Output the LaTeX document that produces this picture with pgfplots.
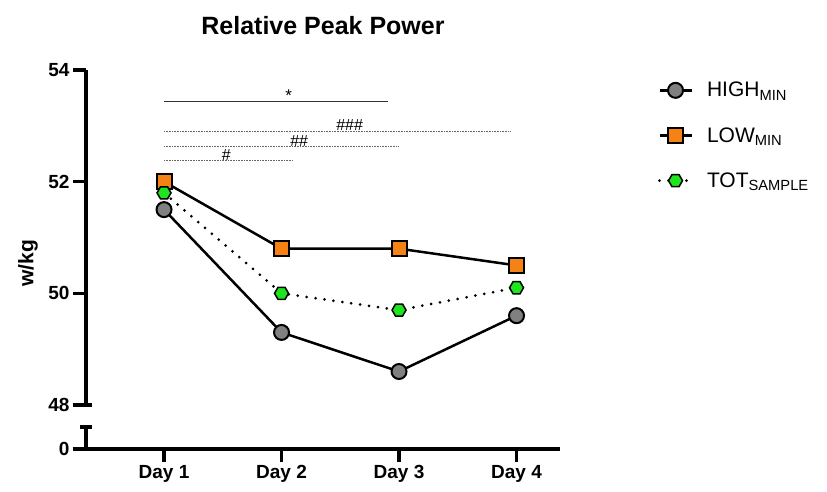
\documentclass[border=0pt]{standalone}
\usepackage{pgfplots}
\pgfplotsset{compat=1.18}
\usepackage{fontspec}
\setmainfont{Liberation Sans}
\definecolor{mgray}{RGB}{128,128,128}
\definecolor{morange}{RGB}{245,130,20}
\definecolor{mgreen}{RGB}{30,230,30}
\pgfdeclareplotmark{hexagon}{%
  \pgfpathmoveto{\pgfpoint{\pgfplotmarksize}{0pt}}%
  \pgfpathlineto{\pgfpoint{0.5\pgfplotmarksize}{0.866\pgfplotmarksize}}%
  \pgfpathlineto{\pgfpoint{-0.5\pgfplotmarksize}{0.866\pgfplotmarksize}}%
  \pgfpathlineto{\pgfpoint{-\pgfplotmarksize}{0pt}}%
  \pgfpathlineto{\pgfpoint{-0.5\pgfplotmarksize}{-0.866\pgfplotmarksize}}%
  \pgfpathlineto{\pgfpoint{0.5\pgfplotmarksize}{-0.866\pgfplotmarksize}}%
  \pgfpathclose
  \pgfusepathqfillstroke}
\begin{document}
\begin{tikzpicture}
\useasboundingbox (-86pt,-86pt) rectangle (741pt,405pt);
\begin{axis}[
  name=top,
  at={(0,0)}, anchor=south west,
  scale only axis,
  width=474pt, height=335pt,
  xmin=0.336, xmax=4.37,
  ymin=48, ymax=54,
  axis x line=none,
  axis y line=left,
  axis line style={-, line width=3.5pt},
  ytick={48,50,52,54},
  tick align=outside,
  major tick length=13pt,
  tick style={line width=3.5pt, black},
  yticklabel style={font=\fontsize{19}{22}\selectfont\bfseries},
  /pgf/number format/assume math mode=true,
  xtick=\empty,
  clip=false,
  title={\fontsize{25}{30}\selectfont\bfseries Relative Peak Power},
  title style={at={(0.5,1)}, yshift=26pt},
  legend style={at={(1.2,0.976)}, anchor=north west, draw=none, fill=none,
    font=\fontsize{21}{25}\selectfont, row sep=25pt,
    /tikz/every odd column/.append style={column sep=12pt}},
  legend cell align=left,
  legend image code/.code={\draw[mark repeat=2,mark phase=2] plot coordinates {(0pt,0pt) (16pt,0pt) (32pt,0pt)};},
]
% significance bars
\addplot[black!80, line width=0.8pt, forget plot] coordinates {(1,53.43) (2.91,53.43)};
\addplot[gray!80!black, line width=0.7pt, dash pattern=on 0.8pt off 0.8pt, forget plot] coordinates {(1,52.91) (3.95,52.91)};
\addplot[gray!80!black, line width=0.7pt, dash pattern=on 0.8pt off 0.8pt, forget plot] coordinates {(1,52.63) (2.99,52.63)};
\addplot[gray!80!black, line width=0.7pt, dash pattern=on 0.8pt off 0.8pt, forget plot] coordinates {(1,52.38) (2.10,52.38)};
\node[anchor=south, inner sep=0.5pt, font=\fontsize{17}{19}\selectfont] at (axis cs:2.06,53.43) {*};
\node[anchor=south, inner sep=0pt, font=\fontsize{16}{18}\selectfont] at (axis cs:2.58,52.91) {\#\#\#};
\node[anchor=south, inner sep=0pt, font=\fontsize{16}{18}\selectfont] at (axis cs:2.15,52.63) {\#\#};
\node[anchor=south, inner sep=0pt, font=\fontsize{16}{18}\selectfont] at (axis cs:1.53,52.38) {\#};
% data
\addplot[black, line width=2.5pt, mark=*, mark size=7.5pt,
  mark options={fill=mgray, draw=black, line width=2pt, solid}]
  coordinates {(1,51.5) (2,49.3) (3,48.6) (4,49.6)};
\addlegendentry{HIGH\textsubscript{MIN}}
\addplot[black, line width=2.5pt, mark=square*, mark size=7.5pt,
  mark options={fill=morange, draw=black, line width=2pt, solid}]
  coordinates {(1,52.0) (2,50.8) (3,50.8) (4,50.5)};
\addlegendentry{LOW\textsubscript{MIN}}
\addplot[black, line width=3pt, line cap=round, dash pattern=on 0pt off 9pt, mark=hexagon, mark size=7pt,
  mark options={fill=mgreen, draw=black, line width=1.5pt, solid}]
  coordinates {(1,51.8) (2,50.0) (3,49.7) (4,50.1)};
\addlegendentry{TOT\textsubscript{SAMPLE}}
\draw[line width=3.5pt] ([xshift=-7pt]axis cs:0.336,48) -- ([xshift=6pt]axis cs:0.336,48);
\end{axis}
\begin{axis}[
  at={(0,-22pt)}, anchor=north west,
  scale only axis,
  width=474pt, height=22pt,
  xmin=0.336, xmax=4.37,
  ymin=0, ymax=1,
  axis x line=bottom,
  axis y line=left,
  axis line style={-, line width=3.5pt},
  ytick={0},
  xtick={1,2,3,4},
  xticklabels={Day 1, Day 2, Day 3, Day 4},
  tick align=outside,
  major tick length=13pt,
  tick style={line width=3.5pt, black},
  ticklabel style={font=\fontsize{19}{22}\selectfont\bfseries},
  /pgf/number format/assume math mode=true,
  clip=false,
]
\addplot[draw=none, forget plot] coordinates {(1,0)};
\draw[line width=3.5pt] ([xshift=-6pt]rel axis cs:0,1) -- ([xshift=6pt]rel axis cs:0,1);
\end{axis}
\node[rotate=90, font=\fontsize{21}{24}\selectfont\bfseries] at (-58pt,142pt) {w/kg};
\end{tikzpicture}
\end{document}
